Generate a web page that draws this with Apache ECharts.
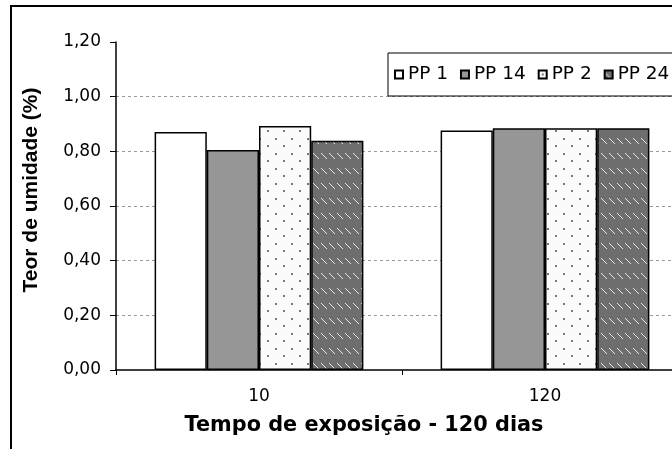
<!DOCTYPE html>
<html>
<head>
<meta charset="utf-8">
<script src="https://cdn.jsdelivr.net/npm/echarts@6/dist/echarts.min.js"></script>
<style>
  html, body { margin: 0; padding: 0; background: #fff; }
  #chart { width: 672px; height: 449px; }
</style>
</head>
<body>
<div id="chart"></div>
<script>
  // data
  var categories = ['10', '120'];
  var seriesNames = ['PP 1', 'PP 14', 'PP 2', 'PP 24'];
  var pp1 = [0.871, 0.876];
  var pp14 = [0.805, 0.884];
  var pp2 = [0.893, 0.884];
  var pp24 = [0.839, 0.884];

  // fill patterns
  function dotPattern() {
    var c = document.createElement('canvas');
    c.width = 16; c.height = 15;
    var ctx = c.getContext('2d');
    ctx.fillStyle = '#fbfbfb';
    ctx.fillRect(0, 0, 16, 15);
    ctx.fillStyle = '#7a7a7a';
    ctx.fillRect(3, 3, 2, 2);
    ctx.fillRect(11, 10, 2, 2);
    return c;
  }
  function hatchPattern() {
    var c = document.createElement('canvas');
    c.width = 8; c.height = 15;
    var ctx = c.getContext('2d');
    ctx.fillStyle = '#6e6e6e';
    ctx.fillRect(0, 0, 8, 15);
    ctx.fillStyle = '#e6e6e6';
    for (var i = 0; i < 6; i++) {
      ctx.fillRect(1 + i, 3 + i, 1, 1);
    }
    return c;
  }

  var fills = [
    '#ffffff',
    '#969696',
    { image: dotPattern(), repeat: 'repeat' },
    { image: hatchPattern(), repeat: 'repeat' }
  ];
  var values = [pp1, pp14, pp2, pp24];

  var series = [];
  for (var i = 0; i < seriesNames.length; i++) {
    series.push({
      name: seriesNames[i],
      type: 'bar',
      barGap: '0%',
      barCategoryGap: '27%',
      itemStyle: {
        color: fills[i],
        borderColor: '#000',
        borderWidth: 1.5
      },
      data: values[i]
    });
  }

  var tickFont = 'DejaVu Sans';

  var option = {
    backgroundColor: '#fff',
    animation: false,
    textStyle: { fontFamily: tickFont },
    grid: {
      left: 116,
      top: 42,
      width: 572,
      height: 328,
      outerBoundsMode: 'none'
    },
    legend: {
      data: seriesNames,
      left: 388,
      top: 53,
      width: 420,
      orient: 'horizontal',
      backgroundColor: '#fff',
      borderColor: '#000',
      borderWidth: 1,
      borderRadius: 0,
      padding: [12, 20, 12, 6],
      icon: 'rect',
      itemWidth: 8,
      itemHeight: 8,
      itemGap: 12,
      textStyle: { fontSize: 18.5, fontFamily: tickFont, color: '#000' }
    },
    xAxis: {
      type: 'category',
      data: categories,
      axisLine: { lineStyle: { color: '#000', width: 1.5 } },
      axisTick: { show: true, length: 5, lineStyle: { color: '#000' } },
      axisLabel: { color: '#000', fontSize: 17, fontFamily: tickFont, margin: 18 },
      splitLine: { show: false }
    },
    yAxis: {
      type: 'value',
      min: 0,
      max: 1.2,
      interval: 0.2,
      axisLine: { show: true, lineStyle: { color: '#000', width: 1.5 } },
      axisTick: { show: true, length: 6, lineStyle: { color: '#000' } },
      axisLabel: {
        color: '#000',
        fontSize: 17,
        fontFamily: tickFont,
        margin: 15,
        formatter: function (v) { return v.toFixed(2).replace('.', ','); }
      },
      splitLine: {
        show: true,
        lineStyle: {
          type: [3, 3],
          width: 1,
          color: ['transparent', '#999', '#999', '#999', '#999', '#999', 'transparent']
        }
      }
    },
    graphic: [
      {
        type: 'rect',
        shape: { x: 11, y: 6, width: 700, height: 500 },
        style: { fill: 'none', stroke: '#000', lineWidth: 2 },
        silent: true,
        z: 0
      },
      {
        type: 'text',
        x: 364,
        y: 426,
        style: {
          text: 'Tempo de exposição - 120 dias',
          font: 'bold 20.8px "DejaVu Sans", sans-serif',
          fill: '#000',
          align: 'center',
          verticalAlign: 'middle'
        }
      },
      {
        type: 'text',
        x: 31,
        y: 190,
        rotation: Math.PI / 2,
        style: {
          text: 'Teor de umidade (%)',
          font: 'bold 21px "Liberation Sans", Arial, sans-serif',
          fill: '#000',
          align: 'center',
          verticalAlign: 'middle'
        }
      }
    ],
    series: series
  };

  var chart = echarts.init(document.getElementById('chart'));
  chart.setOption(option);
</script>
</body>
</html>
